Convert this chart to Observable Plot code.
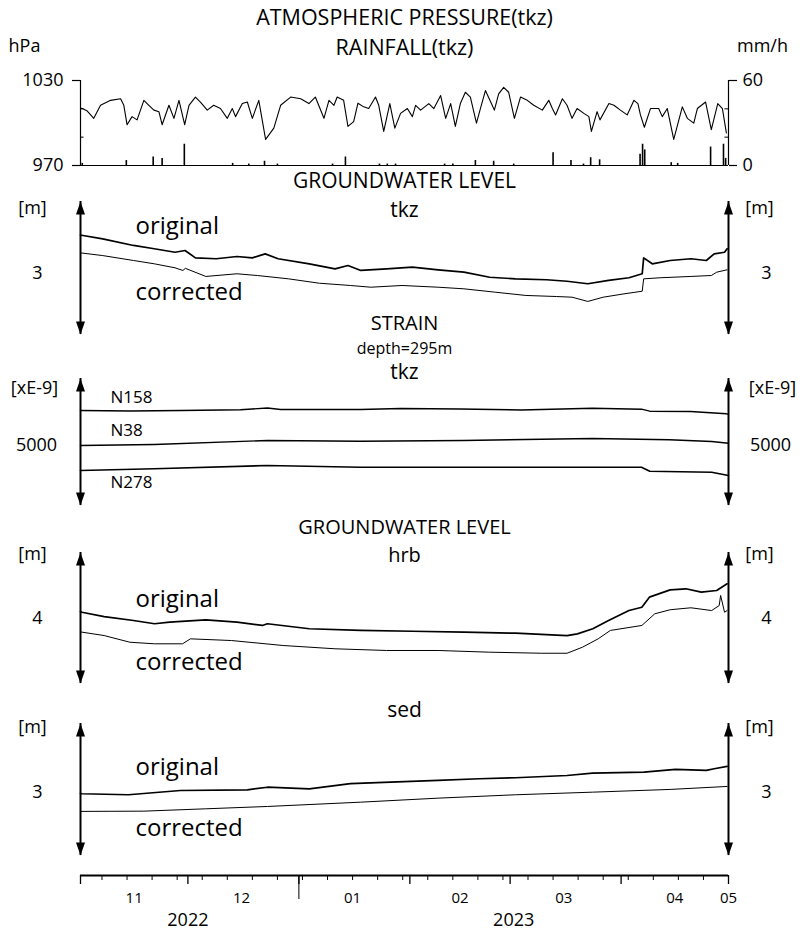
<!DOCTYPE html>
<html><head><meta charset="utf-8">
<script src="https://cdn.jsdelivr.net/npm/d3@7"></script>
<script src="https://cdn.jsdelivr.net/npm/@observablehq/plot@0.6"></script>
<style>
body{margin:0;background:#fff}
#wrap{position:relative;width:807px;height:931px;background:#fff;font-family:"Open Sans",sans-serif}
#wrap svg{position:absolute;left:0;top:0}
</style></head><body><div id="wrap"></div>
<script>
// ---- period (days counted from 2022-11-01) ----
const periodStart = "2022-11-01", periodEnd = "2023-05-01";

// ---- atmospheric pressure tkz [day, hPa] ----
const pressure = [[0,1010.5],[0.5,1010.2],[1.9,1008.4],[3.7,1003.3],[5.6,1012.5],[8.4,1016],[11.2,1017.1],[12.1,1012.5],[13.0,998.8],[14.4,1004.5],[15.8,1002.2],[17.7,1016],[19.1,1012.5],[20.5,1009.1],[21.9,1008],[22.8,998.8],[24.7,1012.5],[26.1,1003.3],[27.5,1016],[29.1,998.8],[30.3,1012.5],[32.1,1018.3],[33.5,1014.8],[35.4,1009.1],[37.2,1012.5],[39.1,1010.2],[41.0,1003.3],[42.4,1010.2],[43.3,1004.5],[45.2,1013.7],[46.6,1014.8],[48.0,1003.3],[49.8,1016],[51.7,988.4],[54.0,996.4],[55.9,1012.5],[58.7,1018.3],[61.5,1017.1],[63.8,1013.7],[65.6,1018.3],[68.0,1003.3],[69.4,1016],[70.8,1012.5],[71.7,1018.3],[73.5,1016],[74.7,997.6],[76.3,1001],[77.5,1014],[79.1,1011.4],[80.5,1010.2],[82.4,1018.3],[83.3,1012.5],[84.7,994.1],[86.4,1013.7],[87.8,996.4],[89.4,1006.8],[91.3,1010.2],[92.7,1004.5],[93.6,1012.5],[95.0,1009.1],[97.3,1013.7],[98.7,1010.2],[100.6,1019.4],[102.0,1003.3],[103.4,1013.7],[104.7,997.6],[106.1,1013.7],[107.5,1021.7],[108.9,1018.3],[110.6,999.9],[111.7,1010.2],[113.1,1022.9],[115.0,1012.5],[115.6,1009.1],[116.8,1020.6],[118.2,1025.2],[119.6,1021.7],[121.2,1003.3],[122.9,1018.3],[124.8,1016],[126.6,1012.5],[129.0,1009.1],[130.8,1016],[131.8,1010.2],[132.7,1005.7],[134.6,1017.1],[135.9,1012.5],[137.3,1003.3],[138.7,1010.2],[140.6,1006.8],[142.0,1004.5],[142.7,994.1],[144.3,1008],[145.1,1002.2],[147.6,1013.7],[149.0,1012.5],[150.8,1009.1],[152.7,1005.7],[154.6,1016],[155.7,1013.7],[156.4,1005.7],[157.5,997],[159.2,1010.2],[161.5,1010.2],[162.5,1004.5],[163.9,1010.2],[165.7,988.4],[168.1,1011.4],[169.5,1003.3],[171.3,999.9],[172.3,1010.2],[174.6,1014.8],[176.2,995.3],[178.0,1013.7],[179.3,1010.2],[180.4,993]];

// ---- rainfall tkz [day, mm/h] ----
const rainfall = [[0.5,1.5],[12.8,3.5],[20.3,6],[22.8,5],[29,15],[42.5,1.5],[47,1],[51.4,3],[55,1],[70.4,1],[74,6],[83.5,1],[85.7,1],[88,1],[101.7,1],[104,1],[110.3,3.5],[115.4,3],[121,1],[132,9],[137,3.5],[140.5,1],[142.5,5.5],[145,4],[156.3,8],[157,15],[157.6,11],[165,2],[166.8,1.5],[176,13],[179.6,15],[180.2,5]];

// ---- groundwater level tkz [day, m] ----
const gwTkzOriginal = [[0,3.29],[0.7,3.287],[6.2,3.262],[14.8,3.212],[20.6,3.187],[26.4,3.161],[29.2,3.174],[32.1,3.119],[37.9,3.112],[43.7,3.129],[48.0,3.119],[51.6,3.149],[55.2,3.112],[63.9,3.074],[71.1,3.036],[74.7,3.061],[78.3,3.024],[85.5,3.036],[92.7,3.049],[99.9,3.029],[107.1,3.011],[114.3,2.973],[121.5,2.961],[130.2,2.954],[135.9,2.943],[141.7,2.924],[147.5,2.949],[153.2,2.969],[156.9,2.999],[157.3,3.119],[159.7,3.074],[164.7,3.099],[170.5,3.112],[174.8,3.099],[177.0,3.149],[179.9,3.161],[180.6,3.187]];
const gwTkzCorrected = [[0,3.156],[0.7,3.154],[6.2,3.136],[14.8,3.099],[20.6,3.074],[26.4,3.044],[28.6,3.024],[29.3,3.04],[35,2.979],[43.7,2.999],[49.4,2.986],[58.1,2.961],[66.7,2.928],[75.4,2.911],[81.1,2.898],[89.8,2.911],[99.9,2.898],[107.1,2.886],[115.7,2.861],[124.4,2.836],[133,2.828],[137.3,2.823],[141.7,2.791],[146,2.823],[151.8,2.848],[156.9,2.868],[157.3,2.961],[161.9,2.969],[170.5,2.979],[176.2,2.986],[177.7,3.011],[180.6,3.029]];

// ---- strain tkz, depth 295 m [day, xE-9] ----
const strainN158 = [[0,5560],[14,5552],[28,5560],[44.7,5571],[52.2,5600],[55.9,5576],[78.2,5576],[89.4,5592],[106,5584],[123,5568],[143,5597],[156.7,5581],[159,5549],[170.4,5544],[180.4,5507],[181,5500]];
const strainN38 = [[0,5000],[20.6,5016],[52.2,5080],[78.2,5069],[107,5080],[143,5112],[164.5,5091],[176.3,5064],[181,5037]];
const strainN278 = [[0,4600],[20.6,4627],[52.2,4680],[78.2,4653],[107,4653],[143,4653],[156.7,4653],[159,4589],[176.3,4573],[181,4520]];

// ---- groundwater level hrb [day, m] ----
const gwHrbOriginal = [[0,4.05],[0.4,4.044],[6.6,4.011],[14.8,3.981],[20.7,3.956],[24.9,3.968],[35,3.986],[43.7,3.968],[50.8,3.943],[52.2,3.956],[63.9,3.918],[78.2,3.905],[92.7,3.899],[107.1,3.892],[121.5,3.884],[135.9,3.866],[138.8,3.879],[143.1,3.918],[147.5,3.981],[153.2,4.057],[156.8,4.082],[158.9,4.159],[164.7,4.215],[169.1,4.223],[173.4,4.197],[177.7,4.21],[180.6,4.261]];
const gwHrbCorrected = [[0,3.895],[0.4,3.892],[6.6,3.866],[13.8,3.815],[20.7,3.803],[28.5,3.803],[30.7,3.841],[42.2,3.828],[56.6,3.79],[71.1,3.765],[85.5,3.752],[99.9,3.752],[114.3,3.739],[128.7,3.731],[135.9,3.731],[140.2,3.777],[144.6,3.841],[148,3.905],[156.8,3.943],[160.4,4.032],[164.7,4.063],[170.5,4.078],[176.3,4.057],[178.4,4.095],[178.8,4.172],[179.9,4.044],[180.6,4.057]];

// ---- groundwater level sed [day, m] ----
const gwSedOriginal = [[0,2.99],[0.4,2.988],[13.4,2.98],[27.9,3.013],[46.6,3.018],[52.2,3.038],[63.9,3.026],[75.4,3.065],[86.6,3.077],[99.9,3.09],[111.4,3.103],[121.5,3.111],[135.9,3.128],[143,3.146],[157.4,3.154],[166.2,3.175],[174.8,3.167],[177,3.18],[180.6,3.198]];
const gwSedCorrected = [[0,2.852],[17.7,2.854],[35,2.872],[52.2,2.89],[78.2,2.923],[99.9,2.954],[121.5,2.98],[143,3.0],[164.7,3.021],[180.6,3.044]];

// ---- scales / tick labels ----
const pressureDomain = [970, 1030], pressureTicks = [970, 1030], pressureMinor = [990, 1010];
const rainDomain = [0, 60], rainTicks = [0, 60], rainMinor = [20, 40];
const tkzDomain = [2.5425, 3.5425], tkzTick = [3];
const strainDomain = [4040, 6072], strainTick = [5000];
const hrbDomain = [3.5, 4.5], hrbTick = [4];
const sedDomain = [2.513, 3.528], sedTick = [3];
const monthLabels = ["11","12","01","02","03","04","05"];
const monthLabelDates = ["2022-11-16","2022-12-16","2023-01-16","2023-02-15","2023-03-16","2023-04-16","2023-05-01"];
const yearLabels = ["2022","2023"];
const yearLabelDates = ["2022-12-01","2023-03-02"];
const yearBoundary = ["2023-01-01"];

// ---- layout ----
const W = 807, H = 931, XL = 80, XR = 728;
const t0 = new Date(periodStart + "T00:00Z"), t1 = new Date(periodEnd + "T00:00Z");
const toDate = d => new Date(t0.getTime() + d * 864e5);
const wrap = document.getElementById("wrap");
const FONT = "'Open Sans', sans-serif";

function add(top, bottom, ydom, marks) {
  const svg = Plot.plot({
    width: W, height: H,
    marginLeft: XL, marginRight: W - XR, marginTop: top, marginBottom: H - bottom,
    x: {type: "utc", domain: [t0, t1], axis: null},
    y: {domain: ydom, axis: null},
    style: {background: "transparent", overflow: "visible", fontFamily: FONT, color: "black"},
    marks
  });
  wrap.appendChild(svg);
}
const label = (s, o) => Plot.text([s], {text: d => d, fill: "black", textAnchor: "middle", lineAnchor: "middle", ...o});
const series = (data, o) => Plot.line(data, {x: d => toDate(d[0]), y: d => d[1], stroke: "black", strokeWidth: 1, ...o});

const headUp = {draw(c) { c.moveTo(0, 0); c.lineTo(4.5, 13); c.lineTo(-4.5, 13); c.closePath(); }};
const headDown = {draw(c) { c.moveTo(0, 0); c.lineTo(4.5, -13); c.lineTo(-4.5, -13); c.closePath(); }};
function arrows(dom) {
  return [
    Plot.ruleX([t0, t1], {y1: dom[0], y2: dom[1], stroke: "black", strokeWidth: 2}),
    Plot.dot([t0, t1], {x: d => d, y: dom[1], symbol: headUp, fill: "black", stroke: "none"}),
    Plot.dot([t0, t1], {x: d => d, y: dom[0], symbol: headDown, fill: "black", stroke: "none"})
  ];
}
function sideLabels(ticks, unit, unitDy, dxL, dxR, uL, uR) {
  return [
    Plot.text(ticks, {x: t0, y: d => d, text: d => String(d), dx: dxL, fontSize: 18, fill: "black"}),
    Plot.text(ticks, {x: t1, y: d => d, text: d => String(d), dx: dxR, fontSize: 18, fill: "black"}),
    label(unit, {frameAnchor: "top-left", dx: uL, dy: unitDy, fontSize: 18}),
    label(unit, {frameAnchor: "top-right", dx: uR, dy: unitDy, fontSize: 18})
  ];
}
const plain = d => String(d);

// Panel A: pressure
add(80, 165, pressureDomain, [
  series(pressure, {strokeWidth: 1.1}),
  Plot.ruleX([t0], {stroke: "black", strokeWidth: 1.2}),
  Plot.axisY(pressureTicks, {anchor: "left", tickSize: 8, tickPadding: 9, fontSize: 18, label: null, strokeWidth: 1.2, tickFormat: plain}),
  Plot.ruleY(pressureMinor, {x1: t0, x2: d3.utcDay.offset(t0, 1), stroke: "black"}),
  label("ATMOSPHERIC PRESSURE(tkz)", {frameAnchor: "top", dy: -62, fontSize: 21.5}),
  label("RAINFALL(tkz)", {frameAnchor: "top", dy: -32, fontSize: 21.5}),
  label("hPa", {frameAnchor: "top-left", dx: -56, dy: -34, fontSize: 18})
]);
// Panel A: rainfall
add(80, 165, rainDomain, [
  Plot.ruleX(rainfall, {x: d => toDate(d[0]), y1: 0, y2: d => d[1], stroke: "black", strokeWidth: 1.6}),
  Plot.ruleY([0], {stroke: "black", strokeWidth: 1.2}),
  Plot.ruleX([t1], {stroke: "black", strokeWidth: 1.2}),
  Plot.axisY(rainTicks, {anchor: "right", tickSize: 8, tickPadding: 6, fontSize: 18, label: null, strokeWidth: 1.2, tickFormat: plain}),
  Plot.ruleY(rainMinor, {x1: d3.utcDay.offset(t1, -1), x2: t1, stroke: "black"}),
  label("mm/h", {frameAnchor: "top-right", dx: 34, dy: -34, fontSize: 18})
]);

// Panel B: groundwater tkz
add(201, 334, tkzDomain, [
  ...arrows(tkzDomain),
  series(gwTkzOriginal, {strokeWidth: 1.7}),
  series(gwTkzCorrected),
  label("GROUNDWATER LEVEL", {frameAnchor: "top", dy: -20, fontSize: 21}),
  label("tkz", {frameAnchor: "top", dy: 9, fontSize: 21}),
  ...sideLabels(tkzTick, "[m]", 7, -43, 38, -48, 31),
  label("original", {frameAnchor: "top-left", dx: 55, dy: 25, fontSize: 24, textAnchor: "start"}),
  label("corrected", {frameAnchor: "top-left", dx: 55, dy: 91, fontSize: 24, textAnchor: "start"})
]);

// Panel C: strain
add(378, 505, strainDomain, [
  ...arrows(strainDomain),
  series(strainN158, {strokeWidth: 1.4}),
  series(strainN38, {strokeWidth: 1.4}),
  series(strainN278, {strokeWidth: 1.6}),
  label("STRAIN", {frameAnchor: "top", dy: -55, fontSize: 20}),
  label("depth=295m", {frameAnchor: "top", dy: -30, fontSize: 16}),
  label("tkz", {frameAnchor: "top", dy: -6, fontSize: 21}),
  ...sideLabels(strainTick, "[xE-9]", 10, -44, 42, -46, 44),
  label("N158", {frameAnchor: "top-left", dx: 30, dy: 19, fontSize: 17, textAnchor: "start"}),
  label("N38", {frameAnchor: "top-left", dx: 30, dy: 52, fontSize: 17, textAnchor: "start"}),
  label("N278", {frameAnchor: "top-left", dx: 30, dy: 104, fontSize: 17, textAnchor: "start"})
]);

// Panel D: groundwater hrb
add(552, 683, hrbDomain, [
  ...arrows(hrbDomain),
  series(gwHrbOriginal, {strokeWidth: 1.7}),
  series(gwHrbCorrected),
  label("GROUNDWATER LEVEL", {frameAnchor: "top", dy: -25, fontSize: 20}),
  label("hrb", {frameAnchor: "top", dy: 3, fontSize: 20}),
  ...sideLabels(hrbTick, "[m]", 2, -43, 38, -48, 31),
  label("original", {frameAnchor: "top-left", dx: 55, dy: 47, fontSize: 24, textAnchor: "start"}),
  label("corrected", {frameAnchor: "top-left", dx: 55, dy: 110, fontSize: 24, textAnchor: "start"})
]);

// Panel E: groundwater sed
add(723, 855, sedDomain, [
  ...arrows(sedDomain),
  series(gwSedOriginal, {strokeWidth: 1.7}),
  series(gwSedCorrected),
  label("sed", {frameAnchor: "top", dy: -13, fontSize: 21}),
  ...sideLabels(sedTick, "[m]", 4, -43, 38, -48, 31),
  label("original", {frameAnchor: "top-left", dx: 55, dy: 44, fontSize: 24, textAnchor: "start"}),
  label("corrected", {frameAnchor: "top-left", dx: 55, dy: 105, fontSize: 24, textAnchor: "start"})
]);

// Time axis
add(874, 875, [0, 1], [
  Plot.ruleY([0], {stroke: "black", strokeWidth: 2}),
  Plot.axisX(d3.utcMonday.range(t0, t1), {anchor: "bottom", tickSize: 5, fill: "none", label: null}),
  Plot.axisX(d3.utcMonth.range(t0, d3.utcDay.offset(t1, 1)), {anchor: "bottom", tickSize: 9, fill: "none", label: null, strokeWidth: 1.3}),
  Plot.axisX(yearBoundary.map(s => new Date(s + "T00:00Z")), {anchor: "bottom", tickSize: 24, fill: "none", label: null}),
  Plot.text(monthLabels, {x: (d, i) => new Date(monthLabelDates[i] + "T00:00Z"), text: d => d, frameAnchor: "bottom", lineAnchor: "middle", dy: 23, fontSize: 15, fill: "black"}),
  Plot.text(yearLabels, {x: (d, i) => new Date(yearLabelDates[i] + "T00:00Z"), text: d => d, frameAnchor: "bottom", lineAnchor: "middle", dy: 45, fontSize: 18, fill: "black"})
]);
</script></body></html>
